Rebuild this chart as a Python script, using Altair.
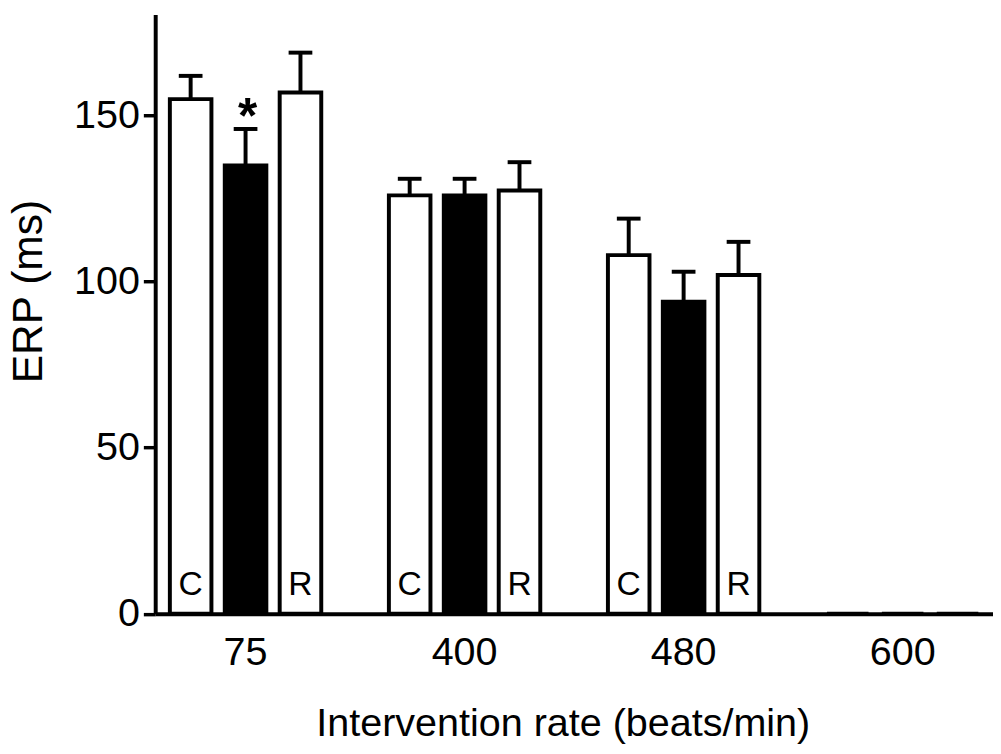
import altair as alt
import pandas as pd

groups = ["75", "400", "480", "600"]
conditions = ["C", "T", "R"]
erp_c = [155, 126, 108, 0]
erp_t = [135, 126, 94, 0]
erp_r = [157, 127.5, 102, 0]
err_c = [7, 5, 11, None]
err_t = [11, 5, 9, None]
err_r = [12, 8.5, 10, None]
bar_text = {"C": "C", "T": "", "R": "R"}
sig_rate = ["75"]
sig_cond = ["T"]
sig_top = [146]

rows = []
for cond, vals, errs in zip(conditions, [erp_c, erp_t, erp_r], [err_c, err_t, err_r]):
    for g, v, e in zip(groups, vals, errs):
        rows.append({
            "rate": g, "cond": cond, "erp": v,
            "top": (v + e) if e is not None else None,
            "label": bar_text[cond] if e is not None else "",
        })
df = pd.DataFrame(rows)
df_err = df.dropna(subset=["top"])
df_sig = pd.DataFrame({"rate": sig_rate, "cond": sig_cond, "top": sig_top, "t": ["*"]})

FONT = "Liberation Sans"

x_enc = alt.X(
    "rate:N", sort=groups,
    scale=alt.Scale(paddingInner=0.205, paddingOuter=0.015),
    axis=alt.Axis(
        title="Intervention rate (beats/min)", labelAngle=0, ticks=False,
        labelPadding=19, labelFontSize=40, titleFontSize=40, titlePadding=32,
        titleX=412.5, domainWidth=4, domainColor="black", labelColor="black",
        titleColor="black", titleFontWeight="normal", labelFont=FONT, titleFont=FONT,
    ),
)
xo_enc = alt.XOffset(
    "cond:N", sort=conditions,
    scale=alt.Scale(paddingInner=0.243, paddingOuter=0.207),
)
y_axis = alt.Axis(
    values=[0, 50, 100, 150], title="ERP (ms)", tickSize=12, tickWidth=3.5,
    tickColor="black", labelPadding=4, labelFontSize=40, titleFontSize=43,
    titlePadding=23.5, titleY=280, domainWidth=4, domainColor="black",
    labelColor="black", titleColor="black", titleFontWeight="normal",
    labelFont=FONT, titleFont=FONT, grid=False,
)
y_scale = alt.Scale(domain=[0, 180.5], nice=False)

bars = alt.Chart(df).mark_bar(stroke="black", strokeWidth=4).encode(
    x=x_enc, xOffset=xo_enc,
    y=alt.Y("erp:Q", scale=y_scale, axis=y_axis, title="ERP (ms)"),
    fill=alt.Fill("cond:N", scale=alt.Scale(domain=conditions, range=["white", "black", "white"]), legend=None),
)

err_rule = alt.Chart(df_err).mark_rule(color="black", strokeWidth=4).encode(
    x=x_enc, xOffset=xo_enc,
    y=alt.Y("erp:Q", scale=y_scale, axis=y_axis, title="ERP (ms)"),
    y2="top:Q",
)

err_cap = alt.Chart(df_err).mark_tick(color="black", size=24, thickness=4, opacity=1).encode(
    x=x_enc, xOffset=xo_enc,
    y=alt.Y("top:Q", scale=y_scale, axis=y_axis, title="ERP (ms)"),
)

labels = alt.Chart(df_err).transform_calculate(zero="0").mark_text(
    font=FONT, fontSize=34, color="black", baseline="alphabetic", dy=-19
).encode(
    x=x_enc, xOffset=xo_enc,
    y=alt.Y("zero:Q", scale=y_scale, axis=y_axis, title="ERP (ms)"),
    text="label:N",
)

star = alt.Chart(df_sig).mark_text(
    font=FONT, fontSize=50, fontWeight="bold", color="black", baseline="alphabetic", dy=4, dx=2
).encode(
    x=x_enc, xOffset=xo_enc,
    y=alt.Y("top:Q", scale=y_scale, axis=y_axis, title="ERP (ms)"),
    text="t:N",
)

chart = alt.layer(bars, err_rule, err_cap, labels, star).properties(
    width=848, height=606.5,
    autosize=alt.AutoSizeParams(type="none"),
    padding={"left": 149, "top": 2, "right": 0, "bottom": 137},
).configure(font=FONT).configure_view(strokeWidth=0, stroke=None)

chart.save("out.html", embed_options={"renderer": "svg", "actions": False})
